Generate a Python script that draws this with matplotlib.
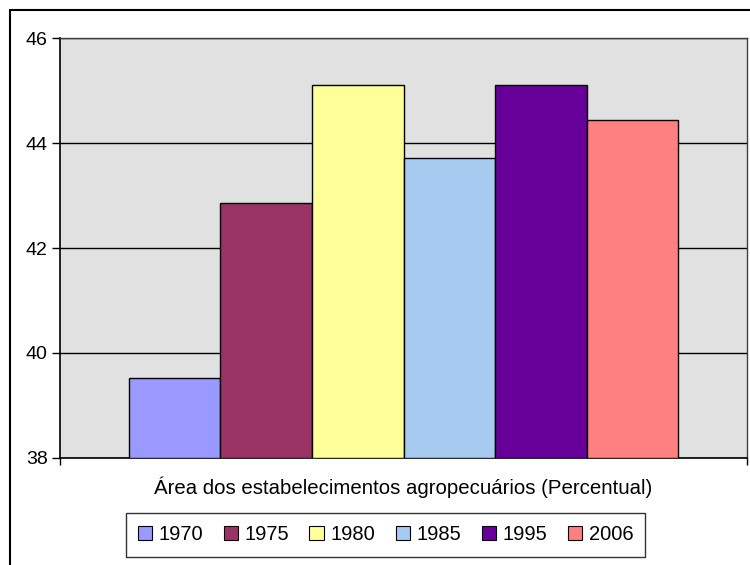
import matplotlib.pyplot as plt
import matplotlib.patches as mpatches
import numpy as np

plt.rcParams['font.family'] = ['Liberation Sans', 'DejaVu Sans']

# Área dos estabelecimentos agropecuários (%), por ano do censo
anos = ['1970', '1975', '1980', '1985', '1995', '2006']
valores = [39.52, 42.86, 45.10, 43.71, 45.11, 44.44]
cores = ['#9999FF', '#993366', '#FFFF99', '#A6CAF0', '#660099', '#FF8080']

fig = plt.figure(figsize=(7.5, 5.65), dpi=100)
ax = fig.add_axes([0.08, 0.1894, 0.916, 0.7433])
ax.set_facecolor('#E1E1E1')

largura = 0.1332
n = len(anos)
pos = (np.arange(n) - (n - 1) / 2) * largura
barras = ax.bar(pos, np.array(valores) - 38, width=largura, bottom=38,
                color=cores, edgecolor='black', linewidth=1.0, zorder=3)

ax.set_xlim(-0.5, 0.5)
ax.set_ylim(38, 46)
ax.set_yticks([38, 40, 42, 44, 46])
ax.tick_params(axis='y', direction='out', length=6, width=1, labelsize=14, pad=3)
ax.set_xticks([-0.5, 0.5])
ax.set_xticklabels([])
ax.tick_params(axis='x', direction='out', length=5, width=1)
ax.grid(axis='y', color='black', linewidth=1.0, zorder=1)

for lado in ['left', 'bottom']:
    ax.spines[lado].set_linewidth(1.2)
for lado in ['top', 'right']:
    ax.spines[lado].set_color('#404040')
    ax.spines[lado].set_linewidth(1.0)

ax.set_xlabel('Área dos estabelecimentos agropecuários (Percentual)',
              fontsize=14.7, labelpad=5)

handles = [mpatches.Patch(facecolor=c, edgecolor='black', linewidth=0.8) for c in cores]
leg = fig.legend(handles, anos, loc='center', bbox_to_anchor=(0.514, 0.0531),
                 ncol=n, fontsize=14.5, frameon=True, fancybox=False,
                 handlelength=0.7, handleheight=0.7, handletextpad=0.35,
                 columnspacing=1.0, borderpad=0.6)
leg.get_frame().set_edgecolor('black')
leg.get_frame().set_linewidth(1.0)

# moldura externa
fig.patches.append(mpatches.Rectangle((10 / 750, -0.1), 1.2, 1 - 10 / 565 + 0.1,
                                      transform=fig.transFigure, fill=False,
                                      edgecolor='black', linewidth=1.5))

fig.savefig('out.png', dpi=100)
